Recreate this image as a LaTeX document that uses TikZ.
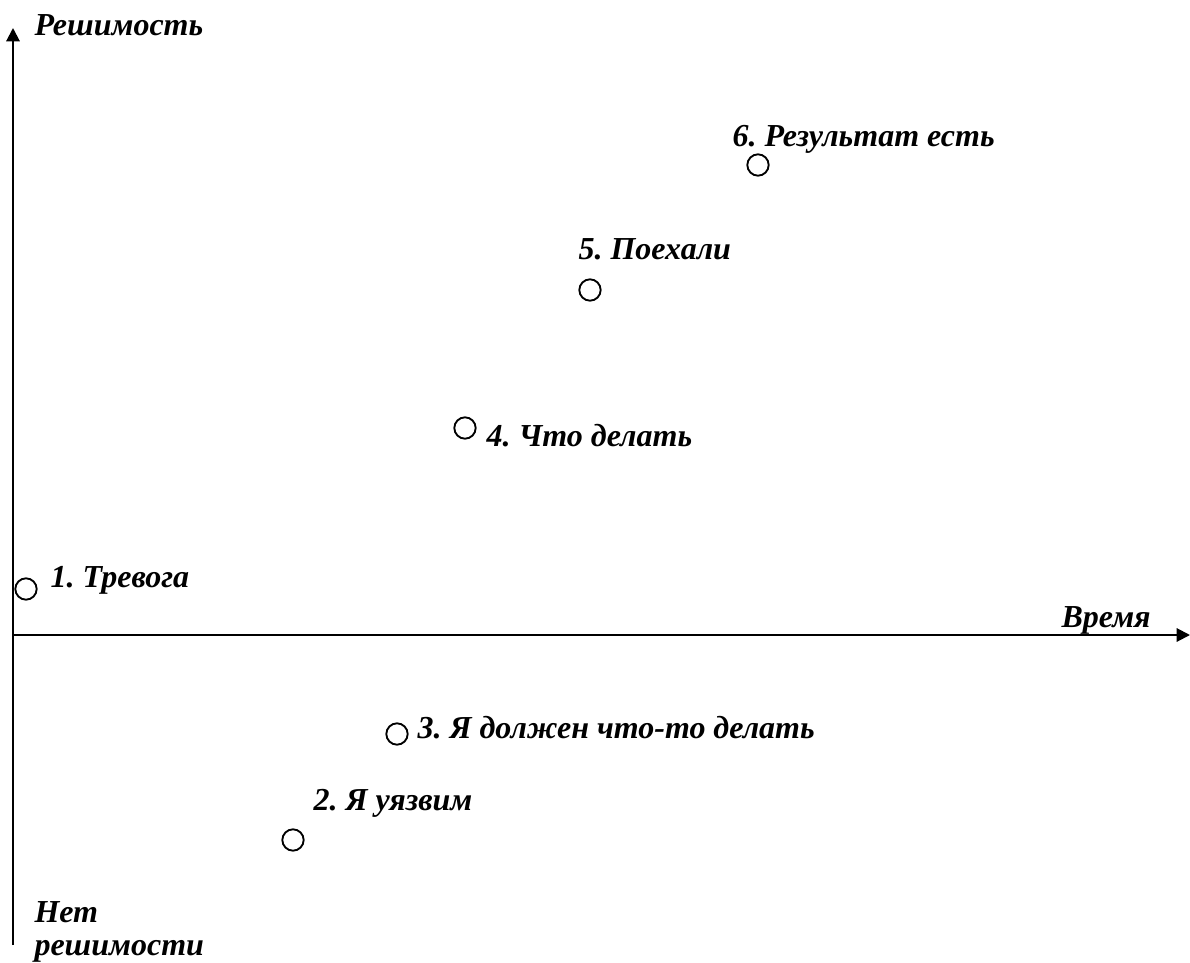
\documentclass[tikz,border=0pt]{standalone}
\usepackage{fontspec}
\setmainfont{Liberation Serif}
\usetikzlibrary{arrows.meta}
\frenchspacing
\begin{document}
\begin{tikzpicture}[x=0.75pt, y=-0.75pt, thick,
	lbl/.style={anchor=west, inner sep=0pt, font=\fontsize{24}{25}\selectfont\bfseries\itshape},
	pt/.style={circle, draw, line width=1.4pt, minimum size=16pt, inner sep=0pt}]
	\useasboundingbox (0,0) rectangle (1190,963);
	%axes
	\coordinate (top) at (13,28);
	\coordinate (bot) at (13,945);
	\coordinate (orig) at (13,635);
	\coordinate (right) at (1190,635);
	\draw[line width=1.5pt, -{Triangle[length=10pt,width=10pt]}] (bot) -- (top);
	\draw[line width=1.5pt, -{Triangle[length=10pt,width=10pt]}] (orig) -- (right);
	\node[lbl] (decisive) at (34,25){Решимость};
	\node[lbl] (time) at (1061,620){Время};
	\node[lbl, align=left] (nodecision) at (34,932){Нет\\решимости};
	
	%stages
	\node[pt] (s1) at (26,589){};
	\node[pt] (s2) at (293,840){};
	\node[pt] (s3) at (397,734){};
	\node[pt] (s4) at (465,428){};
	\node[pt] (s5) at (590,290){};
	\node[pt] (s6) at (758,165){};
	
	\node[lbl] (l1) at (50,580){1. Тревога};
	\node[lbl] (l2) at (313,803){2. Я уязвим};
	\node[lbl] (l3) at (417,728){3. Я должен что-то делать};
	\node[lbl] (l4) at (486,436){4. Что делать};
	\node[lbl] (l5) at (578,249){5. Поехали};
	\node[lbl] (l6) at (732,139){6. Результат есть};
\end{tikzpicture}
\end{document}
